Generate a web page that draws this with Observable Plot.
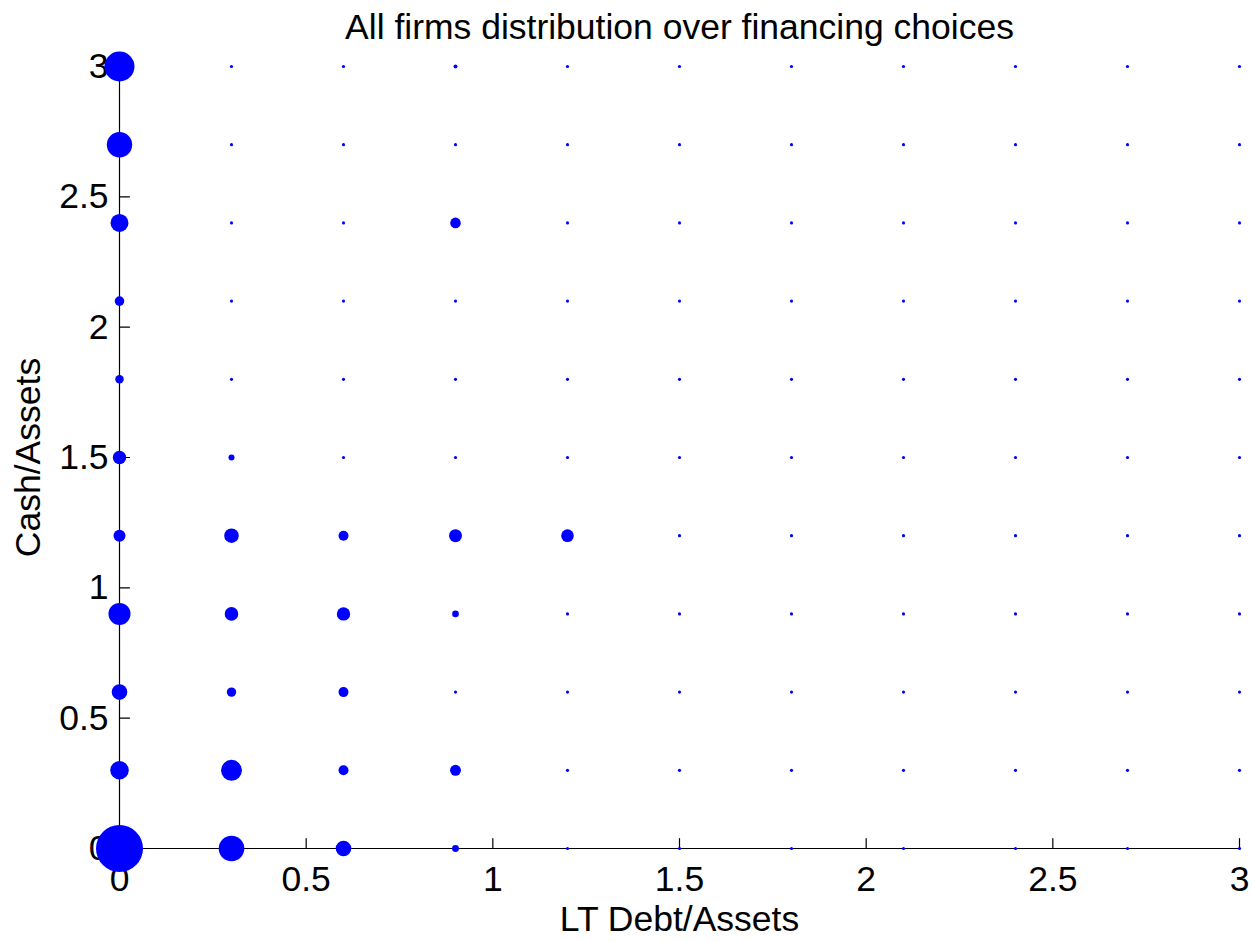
<!DOCTYPE html>
<html>
<head>
<meta charset="utf-8">
<script src="https://cdn.jsdelivr.net/npm/d3@7"></script>
<script src="https://cdn.jsdelivr.net/npm/@observablehq/plot@0.6"></script>
<style>
  body { margin: 0; background: #ffffff; }
  #chart svg { display: block; }
</style>
</head>
<body>
<div id="chart"></div>
<script>
// ---- Data -------------------------------------------------------------
const chartTitle = "All firms distribution over financing choices";
const xLabel = "LT Debt/Assets";
const yLabel = "Cash/Assets";

// grid of financing choices (both axes)
const gridLevels = [0, 0.3, 0.6, 0.9, 1.2, 1.5, 1.8, 2.1, 2.4, 2.7, 3.0];

// axis ticks
const tickValues = [0, 0.5, 1, 1.5, 2, 2.5, 3];
const tickLabels = ["0", "0.5", "1", "1.5", "2", "2.5", "3"];

// relative frequency of firms (area-proportional) at each Cash/Assets level
// (order follows gridLevels), one array per LT Debt/Assets column
const freqDebt00 = [552, 86, 61, 121, 36, 45, 18, 23, 81, 161, 225];
const freqDebt03 = [164, 110, 22, 46, 53, 9, 2.5, 2.5, 2.5, 2.5, 2.5];
const freqDebt06 = [61, 25, 25, 45, 25, 2.5, 2.5, 2.5, 2.5, 2.5, 2.5];
const freqDebt09 = [12, 30, 2.5, 11, 42, 2.5, 2.5, 2.5, 28, 2.5, 4];
const freqDebt12 = [2.5, 2.5, 2.5, 2.5, 40, 2.5, 2.5, 2.5, 2.5, 2.5, 2.5];
const freqDebt15 = [2.5, 2.5, 2.5, 2.5, 2.5, 2.5, 2.5, 2.5, 2.5, 2.5, 2.5];
const freqDebt18 = [2.5, 2.5, 2.5, 2.5, 2.5, 2.5, 2.5, 2.5, 2.5, 2.5, 2.5];
const freqDebt21 = [2.5, 2.5, 2.5, 2.5, 2.5, 2.5, 2.5, 2.5, 2.5, 2.5, 2.5];
const freqDebt24 = [2.5, 2.5, 2.5, 2.5, 2.5, 2.5, 2.5, 2.5, 2.5, 2.5, 2.5];
const freqDebt27 = [2.5, 2.5, 2.5, 2.5, 2.5, 2.5, 2.5, 2.5, 2.5, 2.5, 2.5];
const freqDebt30 = [2.5, 2.5, 2.5, 2.5, 2.5, 2.5, 2.5, 2.5, 2.5, 2.5, 2.5];

const columns = [freqDebt00, freqDebt03, freqDebt06, freqDebt09, freqDebt12, freqDebt15,
                 freqDebt18, freqDebt21, freqDebt24, freqDebt27, freqDebt30];

// build the table the library needs
const points = [];
columns.forEach((col, i) => {
  col.forEach((f, j) => {
    points.push({debt: gridLevels[i], cash: gridLevels[j], freq: f});
  });
});

// ---- Chart ------------------------------------------------------------
const fontFamily = "'Liberation Sans', Arial, Helvetica, sans-serif";
const fs = 35.5;
const fmt = d => tickLabels[tickValues.indexOf(d)];

const chart = Plot.plot({
  width: 1257,
  height: 941,
  marginLeft: 119,
  marginRight: 18,
  marginTop: 66,
  marginBottom: 93,
  style: {fontFamily, fontSize: fs + "px", color: "black", background: "white"},
  x: {domain: [0, 3]},
  y: {domain: [0, 3]},
  r: {type: "sqrt", domain: [0, 552], range: [0, 23.5]},
  marks: [
    // axis lines (left and bottom only)
    Plot.ruleX([0], {stroke: "black", strokeWidth: 1.2}),
    Plot.ruleY([0], {stroke: "black", strokeWidth: 1.2}),
    // inward tick marks
    Plot.vector(tickValues, {x: d => d, y: 0, rotate: 0, length: 10, anchor: "start",
      shape: "spike", r: 0, stroke: "black", strokeWidth: 1.2}),
    Plot.vector(tickValues, {x: 0, y: d => d, rotate: 90, length: 10, anchor: "start",
      shape: "spike", r: 0, stroke: "black", strokeWidth: 1.2}),
    // tick labels
    Plot.axisX({ticks: tickValues, tickFormat: fmt, tickSize: 0, tickPadding: 17,
      label: null, fontSize: fs, fill: "black"}),
    Plot.axisY({ticks: tickValues, tickFormat: fmt, tickSize: 0, tickPadding: 11,
      label: null, fontSize: fs, fill: "black"}),
    // axis titles and chart title
    Plot.text([xLabel], {frameAnchor: "bottom", dy: 71, textAnchor: "middle", lineAnchor: "middle",
      fontSize: fs, fill: "black"}),
    Plot.text([yLabel], {frameAnchor: "left", dx: -91, rotate: -90, textAnchor: "middle",
      lineAnchor: "middle", fontSize: fs, fill: "black"}),
    Plot.text([chartTitle], {frameAnchor: "top", dy: -39, textAnchor: "middle", lineAnchor: "middle",
      fontSize: fs, fill: "black"}),
    // the distribution
    Plot.dot(points, {x: "debt", y: "cash", r: "freq", fill: "#0000ff", stroke: null})
  ]
});

document.getElementById("chart").appendChild(chart);
</script>
</body>
</html>
